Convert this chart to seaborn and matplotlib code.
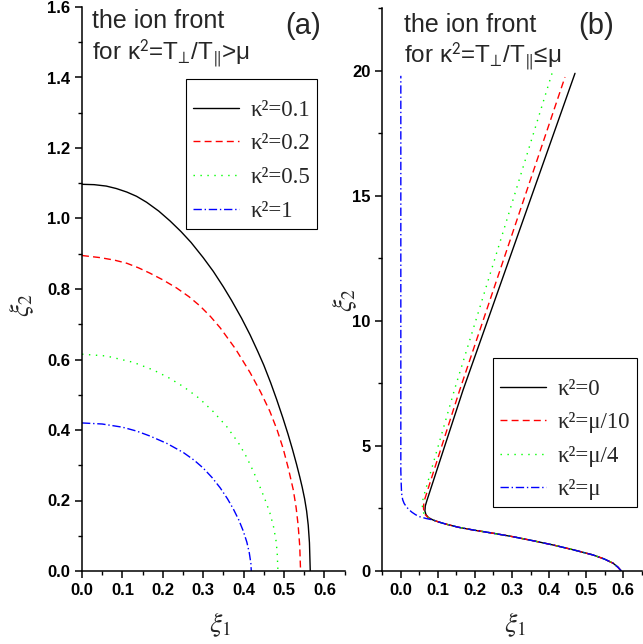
import matplotlib
matplotlib.use("Agg")
import matplotlib.pyplot as plt
import seaborn as sns
import pandas as pd
from matplotlib.ticker import MultipleLocator

# Panel (a): frente ionico para kappa^2 > mu
a_etiquetas = ["κ²=0.1", "κ²=0.2", "κ²=0.5", "κ²=1"]
a_x_01 = [0.0, 0.03, 0.06, 0.085, 0.111, 0.135, 0.16, 0.19, 0.218, 0.245, 0.27, 0.30, 0.325, 0.35, 0.37, 0.395,
          0.416, 0.435, 0.45, 0.467, 0.482, 0.497, 0.51, 0.521, 0.531, 0.539, 0.545, 0.551, 0.556, 0.56, 0.563, 0.565]
a_y_01 = [1.097, 1.096, 1.092, 1.085, 1.075, 1.063, 1.046, 1.021, 0.993, 0.963, 0.932, 0.889, 0.850, 0.806, 0.768,
          0.717, 0.670, 0.623, 0.584, 0.534, 0.486, 0.435, 0.388, 0.345, 0.303, 0.267, 0.238, 0.205, 0.170, 0.130,
          0.080, 0.0]
a_x_02 = [0.0, 0.045, 0.08, 0.111, 0.14, 0.168, 0.20, 0.234, 0.265, 0.292, 0.318, 0.342, 0.38, 0.416, 0.442,
          0.465, 0.483, 0.498, 0.511, 0.523, 0.530, 0.535, 0.539, 0.541]
a_y_02 = [0.895, 0.889, 0.882, 0.873, 0.860, 0.845, 0.826, 0.803, 0.778, 0.752, 0.722, 0.690, 0.630, 0.563, 0.508,
          0.453, 0.400, 0.347, 0.290, 0.230, 0.180, 0.130, 0.070, 0.0]
a_x_05 = [0.0, 0.06, 0.127, 0.177, 0.215, 0.251, 0.29, 0.325, 0.358, 0.387, 0.407, 0.424, 0.44, 0.453, 0.465,
          0.474, 0.480, 0.483, 0.485]
a_y_05 = [0.615, 0.610, 0.592, 0.570, 0.548, 0.523, 0.490, 0.452, 0.410, 0.364, 0.324, 0.283, 0.240, 0.203, 0.165,
          0.126, 0.088, 0.055, 0.0]
a_x_1 = [0.0, 0.05, 0.10, 0.135, 0.168, 0.21, 0.251, 0.278, 0.300, 0.322, 0.342, 0.360, 0.375, 0.388, 0.399,
         0.408, 0.414, 0.418, 0.419]
a_y_1 = [0.420, 0.417, 0.408, 0.397, 0.383, 0.362, 0.336, 0.314, 0.292, 0.265, 0.236, 0.205, 0.175, 0.145, 0.114,
         0.082, 0.052, 0.022, 0.0]

# Panel (b): frente ionico para kappa^2 <= mu
b_etiquetas = ["κ²=0", "κ²=μ/10", "κ²=μ/4", "κ²=μ"]
b_x_0 = [0.595, 0.586, 0.573, 0.549, 0.519, 0.465, 0.411, 0.357, 0.303, 0.249, 0.195, 0.155, 0.123, 0.102, 0.087,
         0.075, 0.068, 0.065, 0.066, 0.070, 0.168, 0.470]
b_y_0 = [0.0, 0.15, 0.31, 0.48, 0.64, 0.85, 1.04, 1.21, 1.37, 1.51, 1.64, 1.75, 1.87, 1.96, 2.04, 2.13, 2.25, 2.40,
         2.60, 2.80, 7.24, 19.9]
b_x_10 = [0.595, 0.586, 0.573, 0.549, 0.519, 0.465, 0.411, 0.357, 0.303, 0.249, 0.195, 0.155, 0.123, 0.102, 0.087,
          0.074, 0.066, 0.062, 0.061, 0.063, 0.159, 0.443]
b_y_10 = [0.0, 0.15, 0.31, 0.48, 0.64, 0.85, 1.04, 1.21, 1.37, 1.51, 1.64, 1.75, 1.87, 1.96, 2.04, 2.13, 2.25, 2.40,
          2.55, 2.80, 7.24, 19.75]
b_x_4 = [0.595, 0.586, 0.573, 0.549, 0.519, 0.465, 0.411, 0.357, 0.303, 0.249, 0.195, 0.155, 0.123, 0.102, 0.087,
         0.073, 0.064, 0.059, 0.058, 0.060, 0.146, 0.408]
b_y_4 = [0.0, 0.15, 0.31, 0.48, 0.64, 0.85, 1.04, 1.21, 1.37, 1.51, 1.64, 1.75, 1.87, 1.96, 2.04, 2.13, 2.25, 2.40,
         2.55, 2.90, 7.31, 19.9]
b_x_mu = [0.595, 0.586, 0.573, 0.549, 0.519, 0.465, 0.411, 0.357, 0.303, 0.249, 0.195, 0.155, 0.123, 0.102, 0.087,
          0.068, 0.051, 0.040, 0.030, 0.022, 0.015, 0.009, 0.005, 0.002, 0.001, 0.0, 0.0]
b_y_mu = [0.0, 0.15, 0.31, 0.48, 0.64, 0.85, 1.04, 1.21, 1.37, 1.51, 1.64, 1.75, 1.87, 1.96, 2.04, 2.10, 2.17, 2.25,
          2.35, 2.45, 2.57, 2.70, 2.85, 3.11, 3.50, 4.0, 19.8]

colores = ["black", "#ff0000", "#00ff00", "#0000ff"]
trazos = ["", (5, 3), (1, 4), (6, 2, 1, 2)]


def tabla(etiquetas, series):
    filas = []
    for nombre, (xs, ys) in zip(etiquetas, series):
        for i in range(len(xs)):
            filas.append({"xi1": xs[i], "xi2": ys[i], "curva": nombre})
    return pd.DataFrame(filas)


def dibujar(ax, df, etiquetas):
    sns.lineplot(data=df, x="xi1", y="xi2", hue="curva", style="curva",
                 hue_order=etiquetas, style_order=etiquetas,
                 palette=dict(zip(etiquetas, colores)),
                 dashes=dict(zip(etiquetas, trazos)),
                 sort=False, estimator=None, linewidth=1.0, ax=ax)


def ejes(ax):
    sns.despine(ax=ax)
    for lado in ["left", "bottom"]:
        ax.spines[lado].set_linewidth(1.1)
        ax.spines[lado].set_color("black")
    ax.tick_params(which="major", direction="out", length=5, width=1.1, colors="black")
    ax.tick_params(which="minor", direction="out", length=3, width=1.0, colors="black")
    for t in ax.get_xticklabels() + ax.get_yticklabels():
        t.set_fontfamily("Liberation Sans")
        t.set_fontweight("bold")
        t.set_fontsize(12)


def leyenda(ax, ancla):
    h, l = ax.get_legend_handles_labels()
    # titulo casi vacio para dejar mas aire arriba, como en el original
    leg = ax.legend(h, l, loc="upper left", bbox_to_anchor=ancla,
                    prop={"family": "Liberation Serif", "size": 16.5},
                    title=" ", title_fontsize=1,
                    frameon=True, fancybox=False, edgecolor="black", framealpha=1,
                    handlelength=2.0, borderaxespad=0, labelspacing=0.55,
                    handletextpad=0.5, borderpad=0.3)
    leg.get_frame().set_linewidth(0.8)


sns.set_theme(style="ticks")
plt.rcParams["font.family"] = ["Liberation Sans", "DejaVu Sans"]

fig = plt.figure(figsize=(6.43, 6.44), dpi=100)
ax1 = fig.add_axes([82 / 643, 73 / 644, 262.6 / 643, 564 / 644])
ax2 = fig.add_axes([382.3 / 643, 73 / 644, 259.4 / 643, 562.7 / 644])

# (a)
df_a = tabla(a_etiquetas, [(a_x_01, a_y_01), (a_x_02, a_y_02), (a_x_05, a_y_05), (a_x_1, a_y_1)])
dibujar(ax1, df_a, a_etiquetas)
ax1.set_xlim(0, 0.65)
ax1.set_ylim(0, 1.6)
ax1.xaxis.set_major_locator(MultipleLocator(0.1))
ax1.xaxis.set_minor_locator(MultipleLocator(0.05))
ax1.yaxis.set_major_locator(MultipleLocator(0.2))
ax1.yaxis.set_minor_locator(MultipleLocator(0.1))
ax1.xaxis.set_major_formatter(lambda v, p: f"{v:.1f}")
ax1.yaxis.set_major_formatter(lambda v, p: f"{v:.1f}")
ejes(ax1)
leyenda(ax1, (0.396, 0.872))

# (b)
df_b = tabla(b_etiquetas, [(b_x_0, b_y_0), (b_x_10, b_y_10), (b_x_4, b_y_4), (b_x_mu, b_y_mu)])
dibujar(ax2, df_b, b_etiquetas)
ax2.set_xlim(-0.05, 0.65)
ax2.set_ylim(0, 22.5)
ax2.xaxis.set_major_locator(MultipleLocator(0.1))
ax2.xaxis.set_minor_locator(MultipleLocator(0.05))
ax2.yaxis.set_major_locator(MultipleLocator(5))
ax2.yaxis.set_minor_locator(MultipleLocator(2.5))
ax2.xaxis.set_major_formatter(lambda v, p: f"{v:.1f}")
ax2.yaxis.set_major_formatter(lambda v, p: f"{v:.0f}")
ejes(ax2)
leyenda(ax2, (0.427, 0.3785))

# etiquetas de ejes
for ax, xx, xy, yx, yy in [(ax1, 220, 625, 22, 305), (ax2, 515, 625, 345, 300)]:
    ax.set_xlabel("")
    ax.set_ylabel("")
    fig.text(xx / 643, 1 - xy / 644, r"$\xi_1$", ha="center", va="center",
             fontsize=20, math_fontfamily="stix")
    fig.text(yx / 643, 1 - yy / 644, r"$\xi_2$", ha="center", va="center",
             fontsize=20, rotation=90, math_fontfamily="stix")

# textos de cada panel
fig.text(92 / 643, 1 - 28 / 644, "the ion front", fontsize=18, va="baseline")
fig.text(92 / 643, 1 - 60 / 644, r"for κ$^2$=T$_{\!\bot\!}$/T$_\Vert$>μ", fontsize=17.5,
         va="baseline", math_fontfamily="stixsans")
fig.text(285 / 643, 1 - 34 / 644, "(a)", fontsize=21, va="baseline")
fig.text(404 / 643, 1 - 32 / 644, "the ion front", fontsize=18, va="baseline")
fig.text(404 / 643, 1 - 63 / 644, r"for κ$^2$=T$_{\!\bot\!}$/T$_\Vert$≤μ", fontsize=17.5,
         va="baseline", math_fontfamily="stixsans")
fig.text(578 / 643, 1 - 34 / 644, "(b)", fontsize=21, va="baseline")

fig.savefig("out.png", dpi=100)
